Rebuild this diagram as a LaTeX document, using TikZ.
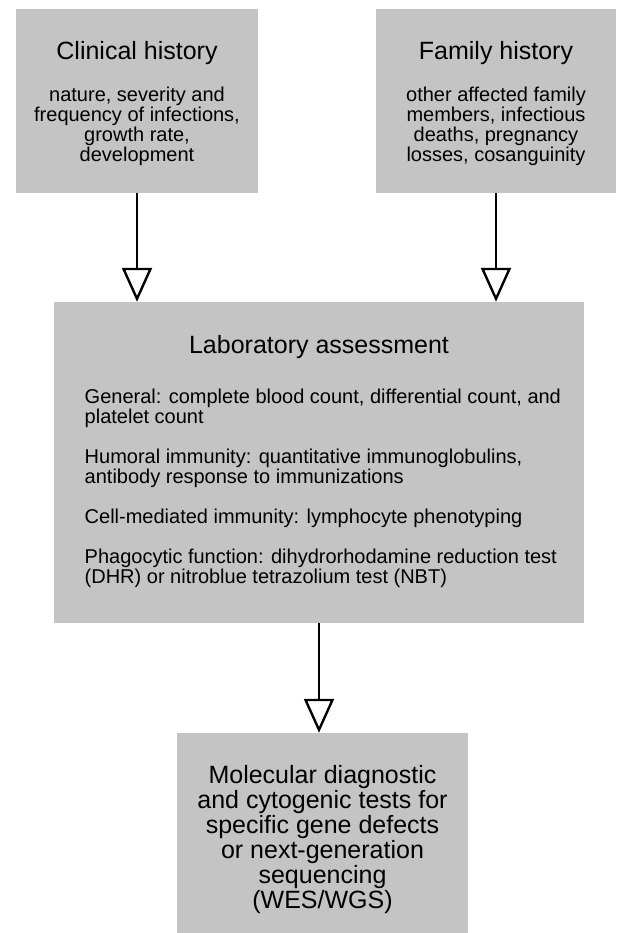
\documentclass[tikz,border=0pt]{standalone}
\usepackage{fontspec}
\setmainfont{Liberation Sans}
\usetikzlibrary{arrows.meta}
\definecolor{boxgray}{RGB}{196,196,196}

\begin{document}
\begin{tikzpicture}[x=1pt,y=-1pt,
        box/.style={fill=boxgray,draw=none,inner sep=0pt},
        head/.style={font=\fontsize{25}{25}\selectfont,anchor=base,inner sep=0pt},
        body/.style={font=\fontsize{20}{20}\selectfont,anchor=base,inner sep=0pt,align=center},
        flow/.style={line width=2pt,-{Triangle[open,length=34pt,width=30pt,line width=2.4pt]}}]%
        \useasboundingbox (0,0) rectangle (616,933);
        % boxes
        \node[box,minimum width=242pt,minimum height=184pt] (clinical) at (137,101) {};
        \node[box,minimum width=240pt,minimum height=184pt] (family) at (496,101) {};
        \node[box,minimum width=530pt,minimum height=321pt] (lab) at (319,462.5) {};
        \node[box,minimum width=291pt,minimum height=200pt] (molecular) at (322.5,833) {};
        % texts (multi-line nodes sit on their last baseline)
        \node[head] (clinicalT) at (137,60) {Clinical history};
        \node[body] (clinicalB) at (137,162) {nature, severity and\\frequency of infections,\\growth rate,\\development};
        \node[head] (familyT) at (496,60) {Family history};
        \node[body] (familyB) at (496,162) {other affected family\\members, infectious\\deaths, pregnancy\\losses, cosanguinity};
        \node[head] (labT) at (319,353) {Laboratory assessment};
        \node[body,align=left,anchor=base west] (labB) at (84.5,583) {General: complete blood count, differential count, and\\platelet count\\[20pt]Humoral immunity: quantitative immunoglobulins,\\antibody response to immunizations\\[20pt]Cell-mediated immunity: lymphocyte phenotyping\\[20pt]Phagocytic function: dihydrorhodamine reduction test\\(DHR) or nitroblue tetrazolium test (NBT)};
        \node[head,align=center] (molecularT) at (322.5,908) {Molecular diagnostic\\and cytogenic tests for\\specific gene defects\\or next-generation\\sequencing\\(WES/WGS)};
        % arrows
        \draw[flow] (clinical.south) -- (clinical.south |- lab.north);
        \draw[flow] (family.south) -- (family.south |- lab.north);
        \draw[flow] (lab.south) -- (lab.south |- molecular.north);
    \end{tikzpicture}
\end{document}
